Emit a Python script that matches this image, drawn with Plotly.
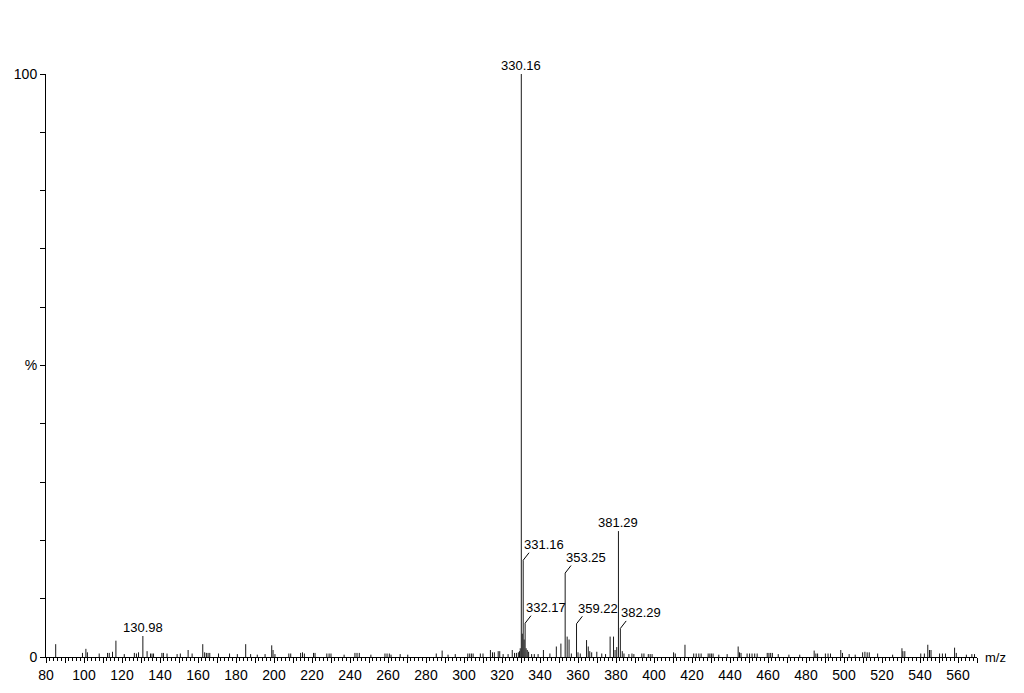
import plotly.graph_objects as go

# ---- data ----
mz = [85.1, 99.2, 101.0, 101.8, 108.0, 112.4, 113.3, 115.0, 116.8, 121.2,
      126.5, 127.6, 128.7, 130.98, 133.2, 135.0, 135.8, 136.6, 141.0, 141.8,
      143.7, 149.0, 150.7, 154.8, 156.9, 162.5, 163.5, 164.4, 165.3, 166.2,
      170.8, 176.6, 180.7, 185.1, 187.7, 191.2, 195.3, 198.8, 199.5, 200.5,
      207.8, 208.8, 214.0, 215.0, 216.0, 220.8, 221.6, 227.8, 229.0, 230.0,
      236.9, 242.6, 243.7, 244.9, 251.0, 258.4, 259.5, 260.7, 261.6, 266.4,
      270.4, 285.4, 288.5, 291.6, 295.4, 302.0, 303.0, 303.9, 304.8, 308.6,
      310.0, 313.9, 315.0, 316.0, 318.0, 318.8, 320.6, 323.2, 325.4, 326.6,
      327.6, 328.6, 329.2, 329.6, 330.16, 330.66, 331.16, 331.66, 332.17, 332.7,
      333.3, 334.0, 335.6, 337.0, 339.0, 341.8, 345.2, 348.6, 351.0, 353.25,
      354.3, 355.3, 356.5, 359.22, 360.0, 361.2, 364.5, 365.4, 366.2, 367.2,
      369.9, 372.5, 374.5, 376.9, 378.7, 379.5, 380.4, 381.29, 382.29, 383.3,
      384.2, 386.8, 388.4, 389.4, 393.6, 394.7, 397.0, 398.0, 399.0, 410.3,
      411.2, 416.3, 420.9, 422.2, 423.6, 424.8, 428.5, 429.4, 430.2, 431.1,
      434.1, 438.5, 444.3, 445.0, 445.8, 449.0, 450.3, 451.6, 453.0, 454.3,
      459.6, 460.5, 461.4, 462.3, 465.4, 471.0, 476.7, 484.3, 485.2, 486.1,
      490.2, 491.6, 492.9, 498.3, 499.2, 502.7, 505.9, 509.8, 511.0, 512.2,
      513.3, 517.7, 525.6, 530.5, 531.0, 532.0, 540.4, 542.3, 544.1, 545.0,
      545.8, 550.3, 551.8, 553.4, 558.2, 559.1, 564.4, 567.3, 568.7]
intensity = [2.2, 0.7, 1.4, 0.8, 0.6, 0.7, 0.7, 0.9, 2.8, 0.5,
             0.7, 0.6, 0.8, 3.6, 1.0, 0.6, 0.6, 0.6, 0.7, 0.7,
             0.6, 0.5, 0.6, 1.2, 0.6, 2.2, 0.8, 0.7, 0.7, 0.7,
             0.6, 0.6, 0.5, 2.2, 0.5, 0.4, 0.5, 2.0, 1.2, 0.5,
             0.6, 0.6, 0.7, 0.8, 0.6, 0.7, 0.7, 0.6, 0.6, 0.6,
             0.4, 0.7, 0.7, 0.7, 0.4, 0.6, 0.6, 0.6, 0.4, 0.5,
             0.4, 0.6, 1.1, 0.4, 0.5, 0.6, 0.6, 0.6, 0.6, 0.6,
             0.6, 1.2, 0.8, 0.8, 1.0, 1.0, 0.5, 0.5, 1.2, 0.7,
             0.7, 0.8, 1.0, 1.5, 100.0, 4.0, 16.6, 3.0, 5.8, 1.5,
             1.2, 0.9, 0.5, 0.5, 0.5, 1.2, 0.6, 1.8, 2.3, 14.4,
             3.5, 3.0, 0.6, 5.7, 0.8, 0.6, 2.9, 1.8, 1.0, 0.8,
             0.9, 0.6, 0.5, 3.5, 3.5, 1.2, 1.7, 21.6, 4.9, 1.0,
             0.6, 0.5, 0.6, 0.5, 0.6, 0.6, 0.5, 0.5, 0.5, 0.8,
             0.6, 2.1, 0.6, 0.6, 0.6, 0.6, 0.6, 0.6, 0.6, 0.6,
             0.4, 0.5, 1.8, 0.8, 0.7, 0.6, 0.6, 0.6, 0.6, 0.6,
             0.7, 0.7, 0.7, 0.7, 0.5, 0.4, 0.4, 1.1, 0.6, 0.6,
             0.6, 0.6, 0.6, 1.2, 0.7, 0.5, 0.4, 0.8, 0.9, 0.8,
             0.8, 0.6, 0.4, 1.5, 1.0, 1.0, 0.6, 0.6, 2.1, 1.2,
             1.2, 0.6, 0.6, 0.6, 1.6, 0.7, 0.4, 0.5, 0.5]

# labelled peaks: style "top" = centred above, "lead" = leader line
label_mz = [130.98, 330.16, 331.16, 332.17, 353.25, 359.22, 381.29, 382.29]
label_text = ["130.98", "330.16", "331.16", "332.17", "353.25", "359.22", "381.29", "382.29"]
label_style = ["top", "top", "lead", "lead", "lead", "lead", "top", "lead"]

x_ticks = list(range(80, 571, 10))
x_ticktext = [str(v) if v % 20 == 0 else "" for v in x_ticks]
y_ticks = list(range(0, 101, 10))
y_ticktext = ["0", "", "", "", "", "%", "", "", "", "", "100"]

FONT = "Liberation Sans, Arial, sans-serif"
INK = "#000000"
STICK = "#1a1a1a"

# build stick segments from the data
xs, ys = [], []
for m, h in zip(mz, intensity):
    xs += [m, m, None]
    ys += [0, h, None]

fig = go.Figure()
fig.add_trace(go.Scatter(x=xs, y=ys, mode="lines",
                         line=dict(color=STICK, width=1), hoverinfo="skip",
                         showlegend=False))

height_of = dict(zip(mz, intensity))
for m, t, s in zip(label_mz, label_text, label_style):
    h = height_of[m]
    if s == "top":
        fig.add_annotation(x=m, y=h, text=t, showarrow=False,
                           xanchor="center", yanchor="bottom", yshift=-1,
                           font=dict(family=FONT, size=13, color=INK))
    else:
        fig.add_annotation(x=m, y=h, text="", showarrow=True, arrowhead=0,
                           arrowwidth=1, arrowcolor=INK, ax=7, ay=-9,
                           standoff=0)
        fig.add_annotation(x=m, y=h, text=t, showarrow=False,
                           xanchor="left", yanchor="bottom", xshift=-1, yshift=6,
                           font=dict(family=FONT, size=13, color=INK))

fig.add_annotation(xref="paper", yref="paper", x=1, y=0, text="m/z",
                   showarrow=False, xanchor="left", yanchor="middle", xshift=6,
                   font=dict(family=FONT, size=13, color=INK))

fig.update_layout(
    width=1024, height=693,
    margin=dict(l=38, r=55, t=66, b=44, autoexpand=False),
    paper_bgcolor="white", plot_bgcolor="white",
    font=dict(family=FONT, size=13, color=INK),
    showlegend=False,
)
fig.update_xaxes(range=[80, 570], showgrid=False, zeroline=False,
                 showline=True, linecolor=INK, linewidth=1,
                 tickmode="array", tickvals=x_ticks, ticktext=x_ticktext,
                 ticks="outside", ticklen=5, tickcolor=INK, tickwidth=1,
                 tickfont=dict(family=FONT, size=14, color=INK),
                 minor=dict(dtick=2, tick0=80, ticks="outside", ticklen=3,
                            tickcolor=INK, tickwidth=1, showgrid=False))
fig.update_yaxes(range=[0, 100], showgrid=False, zeroline=False,
                 showline=True, linecolor=INK, linewidth=1,
                 tickmode="array", tickvals=y_ticks, ticktext=y_ticktext,
                 ticks="outside", ticklen=5, tickcolor=INK, tickwidth=1,
                 tickfont=dict(family=FONT, size=14, color=INK))

fig.write_html("out.html")
